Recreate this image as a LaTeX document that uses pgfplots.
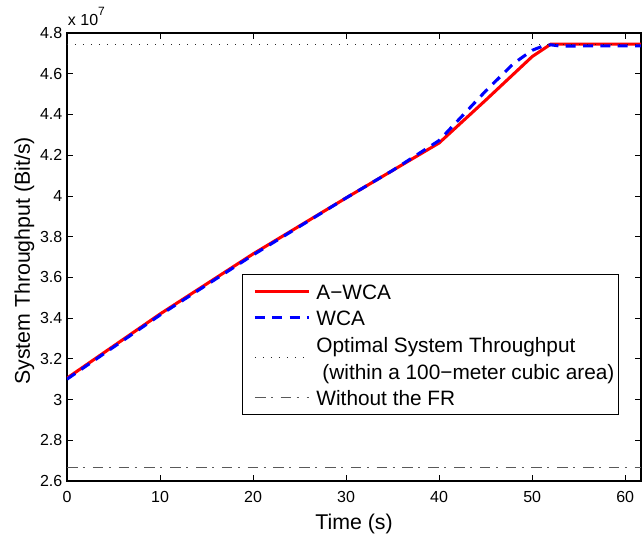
\documentclass[border=0pt]{standalone}
\usepackage{fontspec}
\setmainfont{Liberation Sans}
\usepackage{pgfplots}
\pgfplotsset{compat=1.18}
\usetikzlibrary{calc}
\pgfplotsset{
  normlegend/.code={\pgfplotsset{legend image code/.code={\path (-6.25pt,0pt); \draw[##1] (0pt,0pt) -- (40.5pt,0pt);}}},
  lowlegend/.code={\pgfplotsset{legend image code/.code={\path (-6.25pt,0pt); \draw[##1] (0pt,-9.75pt) -- (40.5pt,-9.75pt);}}},
}
\begin{document}
\begin{tikzpicture}
\path[use as bounding box] (-50.25pt,-45pt) rectangle (432pt,360.75pt);
\begin{axis}[
  name=ax, at={(0pt,0pt)}, anchor=south west,
  width=430.5pt, height=336pt, scale only axis,
  xmin=0, xmax=61.7, ymin=2.6, ymax=4.8,
  xtick={0,10,20,30,40,50,60},
  ytick={2.6,2.8,3,3.2,3.4,3.6,3.8,4,4.2,4.4,4.6,4.8},
  tick align=inside, major tick length=4.3pt,
  axis line style={line width=0.8pt},
  every tick/.style={black, line width=0.6pt},
  tick label style={font=\fontsize{12}{14}\selectfont},
  xticklabel style={yshift=-4pt},
  /pgf/number format/assume math mode=true,
  normlegend,
  legend cell align=left,
  legend style={at={(rel axis cs:0.3049,0.462)}, anchor=north west, draw=black, line width=0.6pt, fill=white,
    inner xsep=2pt, inner ysep=2.81pt, column sep=3.5pt, row sep=0pt,
    font=\fontsize{15.6}{19.9}\selectfont,
    nodes={inner xsep=1pt, inner ysep=0pt, text height=15.94pt, text depth=3.94pt}},
]
\addplot[red, line width=2.3pt] coordinates {
(0,3.105) (10,3.42) (20,3.715) (30,3.99) (40,4.26) (45,4.47) (50,4.684) (52,4.745) (61.7,4.745)};
\addlegendentry{A−WCA}
\addplot[blue, line width=2.3pt, dash pattern=on 7.5pt off 5.5pt] coordinates {
(0,3.10) (10,3.415) (20,3.71) (30,3.99) (35,4.125) (40,4.272) (45,4.515) (48,4.65) (50,4.715) (51,4.733) (52,4.742) (53,4.736) (61.7,4.737)};
\addlegendentry{WCA}
\addplot[black!85, line width=1pt, dash pattern=on 1pt off 5pt, lowlegend] coordinates {
(0,4.745) (61.7,4.745)};
\addlegendentry{Optimal System Throughput}
\addlegendimage{empty legend}
\addlegendentry{\hspace*{4.5pt}(within a 100−meter cubic area)}
\addplot[black!65, line width=0.9pt, dash pattern=on 8pt off 4pt on 1.5pt off 5.85pt, normlegend] coordinates {
(0,2.667) (61.7,2.667)};
\addlegendentry{Without the FR}
\end{axis}
\node[anchor=base, font=\fontsize{16}{19}\selectfont] at ($(ax.south)+(0,-36.75pt)$) {Time (s)};
\node[anchor=base, rotate=90, font=\fontsize{16}{19}\selectfont] at ($(ax.west)+(-27.75pt,-3pt)$) {System Throughput (Bit/s)};
\node[anchor=base west, inner sep=0pt, font=\fontsize{12}{14}\selectfont] at ($(ax.north west)+(0.5pt,5.8pt)$) {x 10\raisebox{7.5pt}{\fontsize{9}{9}\selectfont 7}};
\end{tikzpicture}
\end{document}
